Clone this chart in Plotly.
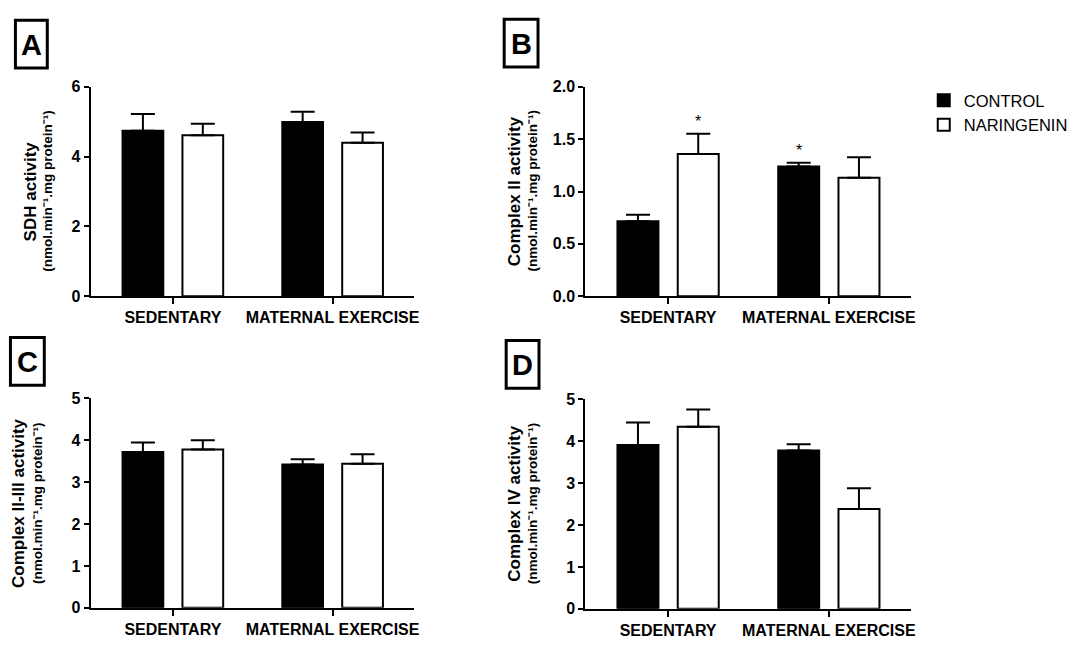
import plotly.graph_objects as go

W, H = 1091, 646

groups = ["SEDENTARY", "MATERNAL EXERCISE"]
series_names = ["CONTROL", "NARINGENIN"]

# Panel A - SDH activity
sdh_control = [4.74, 4.99]
sdh_control_err = [0.48, 0.30]
sdh_nar = [4.61, 4.40]
sdh_nar_err = [0.33, 0.29]

# Panel B - Complex II activity
c2_control = [0.716, 1.24]
c2_control_err = [0.062, 0.034]
c2_nar = [1.358, 1.132]
c2_nar_err = [0.195, 0.195]
c2_control_sig = ["", "*"]
c2_nar_sig = ["*", ""]

# Panel C - Complex II-III activity
c23_control = [3.72, 3.42]
c23_control_err = [0.23, 0.13]
c23_nar = [3.78, 3.44]
c23_nar_err = [0.22, 0.23]

# Panel D - Complex IV activity
c4_control = [3.91, 3.78]
c4_control_err = [0.54, 0.15]
c4_nar = [4.35, 2.38]
c4_nar_err = [0.41, 0.50]

panel_letters = ["A", "B", "C", "D"]
y_titles = ["SDH activity", "Complex II activity", "Complex II-III activity", "Complex IV activity"]
y_subtitle = "(nmol.min\u207b\u00b9.mg protein\u207b\u00b9)"

FONT = "Liberation Sans, Arial, sans-serif"
BARGAP = 0.25
BARGROUPGAP = 0.32


def px_x(p):
    return p / W


def px_y(p):
    return 1 - p / H


panels = [
    dict(ctrl=sdh_control, ctrl_err=sdh_control_err, nar=sdh_nar, nar_err=sdh_nar_err,
         xd=(91, 416), yd=(81, 296), yrange=[0, 6], dtick=2, fmt="d"),
    dict(ctrl=c2_control, ctrl_err=c2_control_err, nar=c2_nar, nar_err=c2_nar_err,
         xd=(588, 915), yd=(81, 296), yrange=[0, 2], dtick=0.5, fmt=".1f"),
    dict(ctrl=c23_control, ctrl_err=c23_control_err, nar=c23_nar, nar_err=c23_nar_err,
         xd=(91, 416), yd=(401, 616), yrange=[0, 5], dtick=1, fmt="d"),
    dict(ctrl=c4_control, ctrl_err=c4_control_err, nar=c4_nar, nar_err=c4_nar_err,
         xd=(588, 915), yd=(402, 617), yrange=[0, 5], dtick=1, fmt="d"),
]

fig = go.Figure()
layout = dict(
    width=W, height=H,
    margin=dict(l=0, r=0, t=0, b=0),
    paper_bgcolor="white", plot_bgcolor="white",
    barmode="group", bargap=BARGAP, bargroupgap=BARGROUPGAP,
    font=dict(family=FONT, color="black"),
    showlegend=True,
    legend=dict(x=px_x(928), y=px_y(77), xanchor="left", yanchor="top",
                font=dict(family=FONT, size=16.5, color="black"),
                bgcolor="rgba(0,0,0,0)", borderwidth=0, traceorder="normal"),
)

annotations = []
shapes = []

for i, p in enumerate(panels):
    n = "" if i == 0 else str(i + 1)
    xa, ya = "x" + n, "y" + n
    fig.add_trace(go.Bar(
        x=groups, y=p["ctrl"], name=series_names[0], legendgroup="ctrl", showlegend=(i == 0),
        marker=dict(color="black", line=dict(color="black", width=2)),
        error_y=dict(type="data", array=p["ctrl_err"], arrayminus=[0, 0], symmetric=False,
                     color="black", thickness=2, width=12),
        xaxis=xa, yaxis=ya,
    ))
    fig.add_trace(go.Bar(
        x=groups, y=p["nar"], name=series_names[1], legendgroup="nar", showlegend=(i == 0),
        marker=dict(color="white", line=dict(color="black", width=2)),
        error_y=dict(type="data", array=p["nar_err"], arrayminus=[0, 0], symmetric=False,
                     color="black", thickness=2, width=12),
        xaxis=xa, yaxis=ya,
    ))
    layout["xaxis" + n] = dict(
        domain=[px_x(p["xd"][0]), px_x(p["xd"][1])], anchor=ya,
        type="category", range=[-0.515, 1.51],
        showline=True, linewidth=2, linecolor="black",
        ticks="outside", ticklen=6, tickwidth=2, tickcolor="black",
        showgrid=False, zeroline=False, fixedrange=True,
        tickfont=dict(family=FONT, size=16, color="black", weight="bold"),
    )
    layout["yaxis" + n] = dict(
        domain=[px_y(p["yd"][1]), px_y(p["yd"][0])], anchor=xa,
        range=p["yrange"], dtick=p["dtick"], tick0=0, tickformat=p["fmt"],
        showline=True, linewidth=2, linecolor="black",
        ticks="outside", ticklen=5, tickwidth=2, tickcolor="black",
        showgrid=False, zeroline=False, fixedrange=True,
        tickfont=dict(family=FONT, size=16, color="black", weight="bold"),
    )

# significance markers on panel B
slot = (1 - BARGAP) / 2
for j in range(len(groups)):
    if c2_control_sig[j]:
        annotations.append(dict(
            x=j - slot / 2, y=c2_control[j] + c2_control_err[j], xref="x2", yref="y2",
            text=c2_control_sig[j], showarrow=False, xanchor="center", yanchor="bottom",
            yshift=2, font=dict(family=FONT, size=16, color="black")))
    if c2_nar_sig[j]:
        annotations.append(dict(
            x=j + slot / 2, y=c2_nar[j] + c2_nar_err[j], xref="x2", yref="y2",
            text=c2_nar_sig[j], showarrow=False, xanchor="center", yanchor="bottom",
            yshift=2, font=dict(family=FONT, size=16, color="black")))

# panel letter boxes (box outline + bold letter)
letter_boxes = [(14, 11, 49, 63), (505, 10, 542, 62), (9, 337, 46, 389), (507, 340, 543, 392)]
for letter, (x0, y0, x1, y1) in zip(panel_letters, letter_boxes):
    shapes.append(dict(
        type="rect", xref="paper", yref="paper",
        x0=px_x(x0 + 1.5), x1=px_x(x1 - 1.5), y0=px_y(y1 - 1.5), y1=px_y(y0 + 1.5),
        line=dict(color="black", width=3), fillcolor="white", layer="above"))
    annotations.append(dict(
        x=px_x((x0 + x1) / 2), y=px_y((y0 + y1) / 2 + 1), xref="paper", yref="paper",
        text=letter, showarrow=False, xanchor="center", yanchor="middle",
        font=dict(family=FONT, size=29, color="black", weight="bold")))

# y-axis titles (two lines, rotated)
title_pos = [(31, 47.5, 188.5), (517, 534.5, 188.5), (18, 37, 508.5), (516, 534.5, 509.5)]
for t, (mx, sx, cy) in zip(y_titles, title_pos):
    annotations.append(dict(
        x=px_x(mx), y=px_y(cy), xref="paper", yref="paper", textangle=-90,
        text=t, showarrow=False, xanchor="center", yanchor="middle",
        font=dict(family=FONT, size=17, color="black", weight="bold")))
    annotations.append(dict(
        x=px_x(sx), y=px_y(cy), xref="paper", yref="paper", textangle=-90,
        text=y_subtitle, showarrow=False, xanchor="center", yanchor="middle",
        font=dict(family=FONT, size=13.5, color="black", weight="bold")))

layout["annotations"] = annotations
layout["shapes"] = shapes
fig.update_layout(**layout)
fig.write_html("out.html", config={"displayModeBar": False},
               post_script="document.body.style.margin='0px';")
